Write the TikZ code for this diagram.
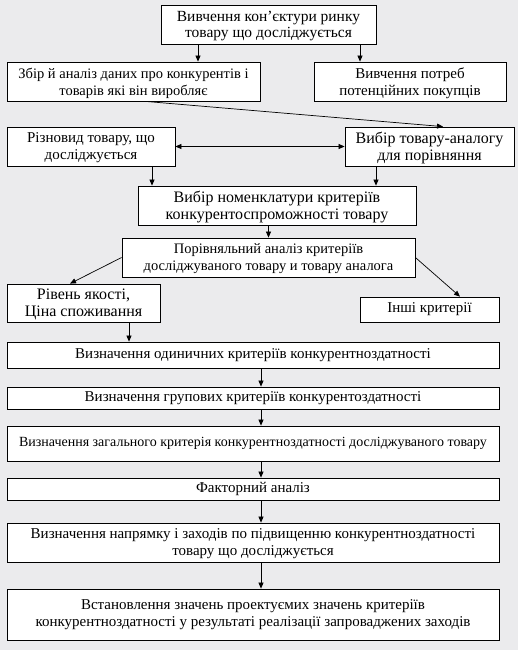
\documentclass[tikz,border=0pt]{standalone}
\usepackage{fontspec}
\setmainfont{Liberation Serif}
\definecolor{pagegray}{RGB}{235, 235, 237}
\usetikzlibrary{arrows.meta, calc}
\tikzset{
	box/.style={rectangle, draw=black, fill=white, line width=0.8pt, align=center, inner sep=2pt, font=\fontsize{15}{17}\selectfont},
	twoline/.style={text depth=-1.5pt},
	arrow/.style={-{Triangle[length=6pt, width=5pt]}, line width=0.7pt},
	twoarrow/.style={{Triangle[length=6pt, width=5pt]}-{Triangle[length=6pt, width=5pt]}, line width=0.7pt},
}

\begin{document}
\begin{tikzpicture}[x=1pt, y=-1pt]
		\fill[pagegray] (0,0) rectangle (518,650);
		\useasboundingbox (0,0) rectangle (518,650);
		% market study and first branches
		\node[box, twoline, minimum width=215pt, minimum height=39pt, font=\fontsize{15.5}{16}\selectfont] (study) at (268.5,24.5) {Вивчення кон’єктури ринку\\товару що досліджується};
		\node[box, twoline, minimum width=253pt, minimum height=39pt, font=\fontsize{14.5}{17}\selectfont] (collect) at (133.5,81.5) {Збір й аналіз даних про конкурентів і\\товарів які він виробляє};
		\node[box, twoline, minimum width=192pt, minimum height=39pt] (needs) at (410,81.5) {Вивчення потреб\\потенційних покупців};
		\node[box, twoline, minimum width=168pt, minimum height=39pt] (kind) at (91,146.5) {Різновид товару, що\\досліджується};
		\node[box, twoline, minimum width=169pt, minimum height=39pt, font=\fontsize{16}{17}\selectfont] (analog) at (429.5,146.5) {Вибір товару-аналогу\\для порівняння};
		\node[box, twoline, minimum width=278pt, minimum height=39pt, font=\fontsize{16}{17}\selectfont] (nomen) at (277,205.5) {Вибір номенклатури критеріїв\\конкурентоспроможності товару};
		\node[box, twoline, minimum width=293pt, minimum height=39pt, font=\fontsize{14.5}{17}\selectfont] (compare) at (268.5,257.5) {Порівняльний аналіз критеріїв\\досліджуваного товару и товару аналога};
		\node[box, twoline, minimum width=153pt, minimum height=38pt, font=\fontsize{16}{17}\selectfont] (quality) at (83.5,303) {Рівень якості,\\Ціна споживання};
		\node[box, minimum width=139pt, minimum height=25pt] (other) at (429.5,309.5) {Інші критерії};
		% full width chain
		\node[box, minimum width=492pt, minimum height=26pt] (single) at (253,355) {Визначення одиничних критеріїв конкурентноздатності};
		\node[box, minimum width=492pt, minimum height=22pt] (group) at (253,398) {Визначення групових критеріїв конкурентоздатності};
		\node[box, minimum width=492pt, minimum height=35pt, font=\fontsize{14}{16}\selectfont] (general) at (253,443.5) {Визначення загального критерія конкурентноздатності досліджуваного товару};
		\node[box, minimum width=492pt, minimum height=22pt] (factor) at (253,489) {Факторний аналіз};
		\node[box, twoline, minimum width=492pt, minimum height=39pt] (direction) at (253,542.5) {Визначення напрямку і заходів по підвищенню конкурентноздатності\\товару що досліджується};
		\node[box, minimum width=492pt, minimum height=51pt] (values) at (253,614.5) {Встановлення значень проектуємих значень критеріїв\\конкурентноздатності у результаті реалізації запроваджених заходів};
		% connectors
		\draw[arrow] ([xshift=-70.5pt]study.south) -- ([xshift=-70.5pt]study.south |- collect.north);
		\draw[arrow] ([xshift=91.5pt]study.south) -- ([xshift=91.5pt]study.south |- needs.north);
		\draw[arrow] ([xshift=12pt]collect.south) -- ([xshift=13.5pt]analog.north);
		\draw[twoarrow] (kind) -- (analog);
		\draw[arrow] ([xshift=61pt]kind.south) -- ([xshift=61pt]kind.south |- nomen.north);
		\draw[arrow] ([xshift=-53.5pt]analog.south) -- ([xshift=-53.5pt]analog.south |- nomen.north);
		\draw[arrow] (nomen.south -| compare.north) -- (compare.north);
		\draw[arrow] (compare.west) -- ([xshift=-13.5pt]quality.north);
		\draw[arrow] (compare.east) -- ([xshift=30.5pt]other.north);
		\draw[arrow] ([xshift=45.5pt]quality.south) -- ([xshift=45.5pt]quality.south |- single.north);
		\foreach \a/\b in {single/group, group/general, general/factor, factor/direction, direction/values}{\draw[arrow] ([xshift=8pt]\a.south) -- ([xshift=8pt]\b.north);}
	\end{tikzpicture}
\end{document}
